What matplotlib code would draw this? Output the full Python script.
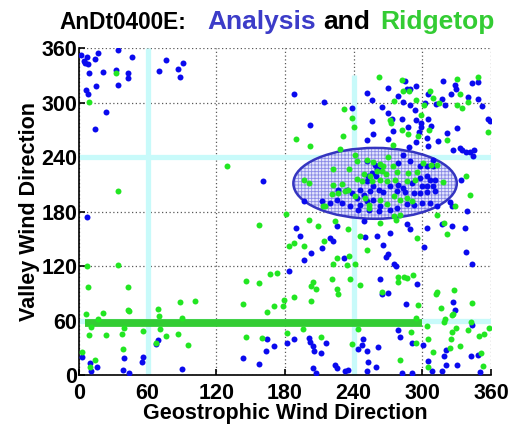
import numpy as np
import matplotlib.pyplot as plt
from matplotlib.patches import Ellipse

# analysis (blue) points: geostrophic dir, valley dir
analysis = np.array([
    (1.7, 352.7), (6.7, 350.5), (4.1, 346), (5.2, 344), (7.6, 342.5), (16.6, 354), (13.7, 347.6),
    (34.4, 357.8), (46, 349.8), (9, 332), (21, 333.7), (32, 336), (42.5, 332), (43, 326.7),
    (34, 319.4), (14.6, 318.7), (5.8, 314), (7.6, 309.5), (23.9, 289), (14, 270.8), (75.8, 347),
    (90.6, 344), (70.2, 334.4), (86.8, 337.4), (88.6, 328),
    (188.2, 309.2), (214.4, 300.4), (202, 275.2), (160.6, 213.7),
    (285, 324.2), (348.2, 323), (343.8, 322), (318.2, 323.9), (328.7, 319.4), (329.3, 315),
    (294.3, 318.3), (289.6, 315.4), (286.7, 314.6), (278.8, 307.4), (269.8, 316.5), (251.7, 311),
    (255.9, 303), (283.5, 300.4), (288.8, 297.5), (293.7, 292), (302.4, 299.3), (304.8, 309.5),
    (312.3, 298.2), (320, 296.8), (316.8, 304), (324.9, 309.5), (339.5, 306.6), (349, 303.8),
    (352.5, 296.5), (238.9, 294.3), (265.1, 295), (269.8, 288.4), (273.3, 282.1), (256.4, 279.6),
    (256.7, 265.6), (252, 258.3), (270.4, 259.8), (274.6, 268.2), (282.1, 281.3), (287.3, 272.6),
    (288, 251), (294.3, 281), (299, 277.3), (299.2, 273), (297.2, 267.1), (294.3, 256.2),
    (304.8, 282.1), (307.7, 274.4), (304.2, 260.5), (305.3, 251.7), (321.7, 266.3), (330.4, 271.5),
    (357.2, 281.8), (359, 279.2), (313.5, 258), (326.6, 248), (333, 249.9), (335, 247.4),
    (338.2, 245.9), (341.7, 245.9), (345.5, 248), (344.6, 240.8), (334, 214.4), (324.3, 190.3),
    (325.5, 186),
    (251.5, 235.2), (258.7, 231.6), (260.8, 227.2), (255.8, 222.4), (263.1, 226.1), (279.1, 233.4),
    (283.5, 242.5), (289.3, 235.2), (298.1, 229.7), (303.9, 229.7), (309.7, 229.7), (309.7, 237),
    (252.1, 219.5), (259.6, 218.8), (251.5, 213.3), (257.3, 207.8), (271.9, 208.5), (279.1, 209.6),
    (283.5, 206), (290.8, 211.4), (298.1, 216.9), (303.9, 218.8), (306.8, 215.1), (311.2, 215.1),
    (299.5, 208.5), (303.9, 207.8), (309.7, 208.5), (226.7, 204.1), (234, 204.1), (238.3, 200.5),
    (245.6, 204.1), (248.6, 198.6), (254.4, 202.3), (261.7, 204.1), (266, 201.2), (277.7, 202.3),
    (285, 201.2), (292.3, 200.5), (298.1, 200.5), (303.9, 201.2), (311.2, 202.3), (212.1, 191.3),
    (219.4, 189.5), (225.2, 193.1), (229.6, 189.5), (236.9, 185.8), (242.7, 195), (245.6, 187.7),
    (251.5, 191.3), (257.3, 193.1), (263.1, 185.8), (271.9, 182.2), (277.7, 184), (286.4, 188.7),
    (292.3, 187.7), (299.5, 189.5), (306.8, 189.5), (312.7, 185.8), (196.7, 191.3), (244.2, 182.2),
    (253.8, 182.2), (261.7, 180.3),
    (338.9, 180.7), (189.7, 162), (193.2, 152.9), (219.4, 151), (225.2, 163.9), (260.2, 152.9),
    (271.9, 156.5), (286.4, 166.8), (289.3, 160.2), (303.9, 162), (317, 166.4), (325.8, 163.9),
    (337.4, 162), (248.6, 169.4), (250, 151.8),
    (212.1, 140.1), (222.3, 147.4), (202.5, 133.9), (196.7, 126.2), (231.4, 129.1), (183.6, 114.9),
    (164, 39.5), (170.4, 32.5), (163.7, 26.7), (143.1, 18.2), (157.6, 12), (181.5, 35.8),
    (187.9, 39.5), (201, 40.6), (201.9, 36.5), (204.5, 32.5), (205.1, 26.7), (211.2, 23.7),
    (215.9, 35.8), (204.2, 7.3), (207.5, 2.1), (223.8, 10.6), (225.2, 7.6), (232.5, 4.0), (235.0, 5.8),
    (265.4, 143.1), (270.4, 132.8), (268.1, 130.2), (275.6, 121.8), (276.8, 120.4), (301.6, 140.5),
    (338, 135.4), (343.2, 122.6), (263.1, 105.4), (295.2, 99.9), (264.6, 89.6), (270.4, 90.7),
    (285.8, 77.9), (327.2, 80.5), (328.7, 71.3), (343.2, 55.2), (248.5, 39.5), (247.7, 33.2),
    (243.6, 28.5), (252, 26.7), (261.6, 31.1), (278.5, 50.1), (280.9, 42.4), (290.8, 35.1),
    (300.4, 32.9), (304.5, 15.7), (308.8, 4), (320.5, 27.8), (319.3, 20.8), (330.4, 11.3),
    (342.4, 20.8), (348.2, 22.3), (317, 4), (290.8, 2.5), (282, 1.8), (252.9, 13.9), (259.3, 8.7),
    (251.7, 4), (350.8, 2.9), (320.5, 11),
    (7, 174.2), (2.9, 20.1), (9.3, 13.5), (15.7, 9.1), (10.5, 4), (39.6, 18.2), (55.9, 19.3),
    (54.8, 14.2), (38.8, 5.8), (44, 2.5), (69.4, 39.1), (67.6, 34), (89.7, 6.5),
])

# ridgetop (green) points
ridgetop = np.array([
    (32, 332), (8.7, 300.4), (33.8, 203),
    (231.6, 293), (190, 260), (202, 252.5), (231, 262.7), (228, 248.8), (129, 229.8),
    (262.2, 328.6), (282.6, 324.9), (330.1, 326), (348.5, 327.8), (283, 312.8), (287.9, 312.8),
    (275.3, 301.9), (294.3, 303), (301.6, 297.5), (309.7, 304.8), (307.1, 313.2), (314.4, 299),
    (333, 309.5), (339.5, 300.4), (330.1, 296.8), (334.5, 294.3), (238.9, 282.4), (240.7, 273),
    (271.9, 281), (272.8, 277.3), (282.1, 269.3), (287.3, 265.2), (299, 286), (296.3, 262.7),
    (305.6, 270), (321.7, 258.3), (357.2, 267), (274.6, 253.3), (338.2, 218.8), (341.7, 198.3),
    (328.7, 186.3),
    (241.3, 242.5), (243.3, 235.2), (252, 236.3), (257.3, 234.1), (263.1, 232.3), (270.4, 240),
    (274.2, 229.7), (266, 229.7), (222.3, 226.8), (236.3, 226.8), (248.6, 221.3), (254.4, 218.8),
    (260.8, 224.3), (264.6, 224.3), (268.4, 221.7), (277.7, 223.2), (287.3, 222.4), (295.2, 223.2),
    (301, 233.4), (307.4, 231.6), (312.7, 231.6), (196.7, 215.1), (201.3, 211.4), (222.3, 209.6),
    (229.6, 210.7), (242.7, 215.8), (247.1, 213.3), (255.8, 213.3), (263.1, 215.1), (269, 213.3),
    (276.2, 215.1), (286.4, 213.3), (293.7, 215.1), (317.9, 212.2), (220.9, 199.7), (226.7, 200.5),
    (232.5, 202.3), (235.4, 203.4), (241.3, 196.8), (250, 195), (253.8, 187.7), (263.1, 193.1),
    (269, 188.7), (274.8, 196.8), (280.6, 193.1), (286.4, 195), (290.8, 191.3), (213, 185.8),
    (215, 186.6), (253, 184), (274.8, 175.6), (280.6, 176.7),
    (180.7, 177.4), (201.3, 170.4), (209.2, 164.6), (223.8, 169.4), (234.9, 160.2), (245.6, 152.9),
    (263.1, 167.5), (277.1, 171.2), (312.7, 176.7), (321.4, 154.7), (318.5, 167.5), (295.2, 151),
    (157.6, 165), (187.9, 145.2), (183.6, 141.6), (196.7, 141.6), (214.5, 147.4), (225.2, 129.1),
    (222.3, 121.8), (167.2, 111.2), (173.1, 112), (145.7, 103.2), (157.6, 101.3), (220.9, 105.4),
    (204.8, 102.8), (203.1, 97.7), (207.2, 94.7), (225.8, 94.7), (226.7, 88.9), (187.9, 86.3),
    (202.5, 81.2), (179.5, 83), (178, 76.4), (170.2, 76.4), (164, 69.8), (143.1, 78.3),
    (181.8, 46.4), (196.1, 50.5), (146, 41.7), (160.2, 40.6), (211.2, 42.4),
    (251.7, 137.2), (236, 131), (234, 121.1), (241.2, 122.6), (237.2, 105.4), (245.6, 98.8),
    (279.1, 107.9), (278.5, 102.8), (284.4, 107.9), (286.4, 106.4), (291.7, 110.5), (264.6, 91.8),
    (296, 77.2), (294.6, 63.3), (312.6, 91.8), (311.8, 89.6), (327.8, 93.6), (343.2, 79),
    (316.4, 74.2), (326.9, 67.7), (325.8, 65.8), (319.9, 61.4), (318.5, 58.5), (342.1, 58.9),
    (244.2, 51.2), (290.2, 47.2), (294.3, 35.1), (238.9, 34), (303.9, 53.7), (304.5, 40.2),
    (329.5, 52.3), (326.3, 47.9), (324.6, 40.2), (339.7, 50.1), (349.4, 42.8), (353.7, 45),
    (358.4, 52.3), (309.4, 25.6), (324.3, 29.6), (333, 32.2), (351.4, 23.7), (352.8, 10.2),
    (304.8, 9.1), (280.9, 16),
    (7, 119.6), (34.4, 121.1), (7.6, 96.6), (42.5, 96.9), (6.1, 66.9), (21, 68), (42.5, 71.3),
    (44, 70.6), (16.6, 62.2), (69.4, 72.8), (70.2, 65.5), (88.6, 80.5), (101.4, 81.6), (89.7, 63.3),
    (10.5, 53), (9, 44.6), (23.6, 44.6), (39.6, 52.3), (37.9, 45.7), (55.7, 48.3), (70.5, 51.2),
    (86.8, 45.7), (76, 43.5), (95, 33.2), (67.6, 35.1), (38.8, 28.9), (2.9, 25.2), (14, 16.4),
    (9.3, 9.1),
])

# reference lines (cyan): (value, start, end)
vlines = [(60, 0, 360), (240, 0, 330)]
hlines = [(240, 0, 360), (60, 0, 360)]
# ridgetop mean band
bar_x = [5, 300]
bar_y = 57
# analysis cluster ellipse
ell_center = (258.7, 211)
ell_width = 142.8
ell_height = 78

ticks = [0, 60, 120, 180, 240, 300, 360]

plt.rcParams.update({'font.family': ['Liberation Sans', 'DejaVu Sans'], 'font.weight': 'bold',
                     'hatch.linewidth': 0.6})

fig = plt.figure(figsize=(5.11, 4.24), dpi=100)
ax = fig.add_axes([0.1546, 0.1155, 0.8063, 0.7713])

cyan = '#c8fafa'
for x, y0, y1 in vlines:
    ax.plot([x, x], [y0, y1], color=cyan, lw=3.8, zorder=1.5, solid_capstyle='butt')
for y, x0, x1 in hlines:
    ax.plot([x0, x1], [y, y], color=cyan, lw=3.8, zorder=1.5, solid_capstyle='butt')

ell = Ellipse(ell_center, ell_width, ell_height, facecolor='#e4e6fb', edgecolor='#8a8ae6',
              hatch='+++++', lw=0, zorder=2)
ax.add_patch(ell)
ax.add_patch(Ellipse(ell_center, ell_width, ell_height, facecolor='none', edgecolor='#3535c0',
                     lw=1.8, zorder=2.1))

ax.plot(bar_x, [bar_y, bar_y], color='#33cc33', lw=5.6, solid_capstyle='butt', zorder=2.5)

ax.plot(analysis[:, 0], analysis[:, 1], 'o', color='#0a0aee', ms=4.3, mew=0, zorder=3)
ax.plot(ridgetop[:, 0], ridgetop[:, 1], 'o', color='#22e622', ms=4.3, mew=0, zorder=3)

ax.set_xlim(0, 360)
ax.set_ylim(0, 360)
ax.set_xticks(ticks)
ax.set_yticks(ticks)
ax.grid(True, linestyle=(0, (1, 2)), color='0.35', lw=0.9)
ax.set_axisbelow(True)
for s in ['top', 'right']:
    ax.spines[s].set_visible(False)
for s in ['left', 'bottom']:
    ax.spines[s].set_linewidth(1.2)
ax.tick_params(direction='in', length=4, width=1.2, labelsize=15.5)
ax.tick_params(axis='y', pad=1)
ax.tick_params(axis='x', pad=6)
for lab in ax.get_xticklabels() + ax.get_yticklabels():
    lab.set_fontweight('bold')

ax.set_xlabel('Geostrophic Wind Direction', fontsize=15.5, fontweight='bold', labelpad=-1)
ax.set_ylabel('Valley Wind Direction', fontsize=15.5, fontweight='bold', labelpad=1)

fig.text(0.117, 0.931, 'AnDt0400E:', fontsize=16.3, fontweight='bold', color='black', va='baseline')
fig.text(0.405, 0.931, 'Analysis', fontsize=19, fontweight='bold', color='#3c3cc8', va='baseline')
fig.text(0.632, 0.931, 'and', fontsize=19, fontweight='bold', color='black', va='baseline')
fig.text(0.744, 0.931, 'Ridgetop', fontsize=19, fontweight='bold', color='#33cc33', va='baseline')

fig.savefig('out.png', dpi=100)
